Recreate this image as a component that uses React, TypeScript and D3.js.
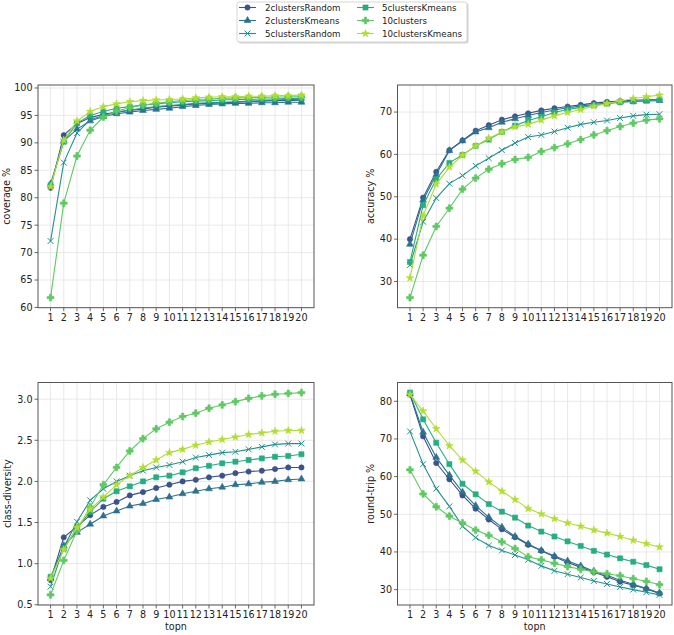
import React from "react";
import * as d3 from "d3";

const topn = d3.range(1, 21);
const seriesNames = ["2clustersRandom", "2clustersKmeans", "5clustersRandom", "5clustersKmeans", "10clusters", "10clustersKmeans"];
const markers = ["circle", "triangle", "x", "square", "plus", "star"];
const colorT = [0.25, 0.37, 0.5, 0.62, 0.75, 0.88];

const coverage = [
  [81.8, 91.4, 93.5, 94.6, 95.2, 95.6, 95.9, 96.2, 96.5, 96.7, 96.9, 97.1, 97.2, 97.3, 97.4, 97.5, 97.6, 97.7, 97.7, 97.8],
  [82.5, 90.3, 92.5, 94.0, 94.8, 95.3, 95.6, 95.9, 96.1, 96.3, 96.6, 96.8, 97.0, 97.1, 97.2, 97.2, 97.3, 97.3, 97.4, 97.4],
  [72.1, 86.4, 91.8, 94.2, 95.0, 95.6, 96.0, 96.3, 96.6, 96.8, 97.0, 97.2, 97.3, 97.4, 97.5, 97.6, 97.7, 97.8, 97.9, 97.9],
  [82.3, 90.2, 93.6, 95.0, 95.7, 96.3, 96.6, 96.9, 97.1, 97.3, 97.5, 97.6, 97.7, 97.8, 97.9, 97.9, 98.0, 98.0, 98.1, 98.1],
  [61.8, 79.0, 87.6, 92.3, 94.7, 95.8, 96.4, 96.9, 97.2, 97.5, 97.7, 97.9, 98.0, 98.1, 98.2, 98.2, 98.3, 98.3, 98.4, 98.4],
  [82.0, 90.5, 94.0, 95.7, 96.6, 97.1, 97.5, 97.7, 97.8, 97.9, 98.0, 98.2, 98.3, 98.4, 98.4, 98.5, 98.5, 98.6, 98.6, 98.7],
];

const accuracy = [
  [40.0, 49.8, 55.9, 61.0, 63.3, 65.6, 66.9, 68.2, 69.0, 69.7, 70.4, 70.9, 71.3, 71.7, 72.1, 72.4, 72.6, 72.8, 72.9, 73.0],
  [38.8, 49.2, 55.2, 60.9, 63.2, 65.3, 66.3, 67.6, 68.4, 69.2, 69.9, 70.5, 71.0, 71.4, 71.8, 72.1, 72.4, 72.5, 72.6, 72.7],
  [33.9, 44.1, 49.7, 53.1, 55.0, 57.3, 59.1, 61.0, 62.7, 64.1, 64.6, 65.4, 66.3, 67.1, 67.6, 68.0, 68.6, 69.1, 69.4, 69.5],
  [34.6, 48.0, 54.2, 58.0, 59.9, 62.0, 63.5, 65.3, 66.8, 68.0, 68.9, 69.9, 70.6, 71.1, 71.6, 72.0, 72.3, 72.5, 72.7, 73.0],
  [26.2, 36.2, 43.0, 47.3, 51.8, 54.4, 56.5, 57.8, 58.8, 59.3, 60.7, 61.6, 62.5, 63.5, 64.6, 65.6, 66.6, 67.4, 68.1, 68.4],
  [30.8, 45.5, 53.0, 57.0, 59.8, 62.0, 63.8, 65.3, 66.5, 67.1, 68.1, 69.1, 69.9, 70.6, 71.4, 72.0, 72.6, 73.2, 73.6, 74.0],
];

const diversity = [
  [0.80, 1.32, 1.45, 1.59, 1.69, 1.75, 1.83, 1.87, 1.92, 1.96, 2.00, 2.02, 2.05, 2.07, 2.10, 2.12, 2.13, 2.15, 2.17, 2.17],
  [0.82, 1.22, 1.38, 1.48, 1.58, 1.64, 1.70, 1.73, 1.78, 1.81, 1.85, 1.88, 1.91, 1.93, 1.96, 1.97, 1.99, 2.00, 2.02, 2.03],
  [0.72, 1.20, 1.51, 1.77, 1.91, 2.00, 2.07, 2.13, 2.17, 2.20, 2.24, 2.29, 2.32, 2.35, 2.36, 2.39, 2.42, 2.45, 2.46, 2.46],
  [0.84, 1.18, 1.44, 1.63, 1.79, 1.88, 1.94, 2.00, 2.05, 2.07, 2.11, 2.16, 2.19, 2.22, 2.24, 2.26, 2.28, 2.30, 2.31, 2.33],
  [0.62, 1.04, 1.40, 1.69, 1.96, 2.17, 2.37, 2.52, 2.64, 2.72, 2.79, 2.83, 2.89, 2.93, 2.97, 3.01, 3.04, 3.06, 3.07, 3.08],
  [0.82, 1.17, 1.44, 1.66, 1.81, 1.96, 2.07, 2.17, 2.26, 2.35, 2.39, 2.44, 2.48, 2.51, 2.54, 2.57, 2.59, 2.61, 2.62, 2.62],
];

const roundTrip = [
  [81.8, 70.7, 63.6, 59.3, 55.0, 51.5, 48.6, 46.0, 43.9, 41.9, 40.3, 38.7, 37.2, 35.9, 34.6, 33.4, 32.1, 31.2, 30.2, 29.0],
  [82.0, 71.8, 65.1, 60.4, 55.9, 52.3, 49.2, 46.6, 44.1, 42.1, 40.4, 38.9, 37.6, 36.3, 34.9, 33.8, 32.5, 31.4, 30.3, 29.1],
  [72.0, 63.3, 56.8, 52.1, 46.8, 43.8, 41.7, 40.4, 39.2, 37.9, 36.3, 35.0, 34.1, 33.2, 32.3, 31.5, 30.7, 30.0, 29.3, 28.6],
  [82.3, 75.2, 69.0, 63.3, 58.1, 55.3, 52.7, 50.7, 49.1, 47.0, 45.4, 44.1, 42.8, 41.6, 40.3, 39.3, 38.3, 37.4, 36.5, 35.4],
  [61.8, 55.4, 52.0, 49.5, 47.7, 45.8, 44.4, 42.7, 40.9, 38.7, 37.9, 37.0, 36.1, 35.4, 34.7, 34.2, 33.7, 32.9, 32.2, 31.3],
  [81.8, 77.4, 72.7, 68.2, 64.4, 61.4, 58.6, 56.1, 53.9, 51.5, 50.1, 48.8, 47.7, 46.8, 45.8, 45.0, 44.1, 43.1, 42.2, 41.3],
];

const coverageTicks = [60, 65, 70, 75, 80, 85, 90, 95, 100];
const accuracyTicks = [30, 40, 50, 60, 70];
const diversityTicks = [0.5, 1.0, 1.5, 2.0, 2.5, 3.0];
const roundTripTicks = [30, 40, 50, 60, 70, 80];

const FONT = "DejaVu Sans, sans-serif";
const TICK_FS = 9.6;
const LEG_FS = 8.7;
const colors = colorT.map((t) => d3.interpolateViridis(t));

function Marker({ type, x, y, color }: { type: string; x: number; y: number; color: string }) {
  let sym: any = d3.symbolCircle;
  let size = 22;
  let stroke = false;
  if (type === "triangle") { sym = d3.symbolTriangle; size = 20; }
  else if (type === "square") { sym = d3.symbolSquare; size = 26; }
  else if (type === "plus") { sym = d3.symbolCross; size = 26; }
  else if (type === "star") { sym = d3.symbolStar; size = 18; }
  else if (type === "x") { sym = d3.symbolX; size = 24; stroke = true; }
  const p = d3.symbol().type(sym).size(size)() as string;
  return stroke ? (
    <path d={p} transform={`translate(${x},${y})`} fill="none" stroke={color} strokeWidth={1} />
  ) : (
    <path d={p} transform={`translate(${x},${y})`} fill={color} stroke={color} strokeWidth={0.6} />
  );
}

type PanelProps = {
  data: number[][];
  ticks: number[];
  fmt: (v: number) => string;
  label: string;
  x0: number; x1: number; y0: number; y1: number;
  labelX: number;
  showX: boolean;
};

function Panel({ data, ticks, fmt, label, x0, x1, y0, y1, labelX, showX }: PanelProps) {
  const all = data.flat();
  const mn = d3.min(all)!;
  const mx = d3.max(all)!;
  const pad = (mx - mn) * 0.05;
  const x = d3.scaleLinear().domain([0.05, 20.95]).range([x0, x1]);
  const y = d3.scaleLinear().domain([mn - pad, mx + pad]).range([y1, y0]);
  const line = d3.line<number>().x((_, i) => x(topn[i])).y((v) => y(v));
  return (
    <g>
      {topn.map((t) => (
        <line key={"gx" + t} x1={x(t)} x2={x(t)} y1={y0} y2={y1} stroke="#e3e3e3" strokeWidth={0.8} />
      ))}
      {ticks.map((t) => (
        <line key={"gy" + t} x1={x0} x2={x1} y1={y(t)} y2={y(t)} stroke="#e3e3e3" strokeWidth={0.8} />
      ))}
      {data.map((s, si) => (
        <g key={si}>
          <path d={line(s) as string} fill="none" stroke={colors[si]} strokeWidth={1.1} />
          {s.map((v, i) => (
            <Marker key={i} type={markers[si]} x={x(topn[i])} y={y(v)} color={colors[si]} />
          ))}
        </g>
      ))}
      <rect x={x0} y={y0} width={x1 - x0} height={y1 - y0} fill="none" stroke="#555" strokeWidth={1} />
      {topn.map((t) => (
        <g key={"tx" + t}>
          <line x1={x(t)} x2={x(t)} y1={y1} y2={y1 + 3.5} stroke="#444" strokeWidth={0.8} />
          <text x={x(t)} y={y1 + 13} textAnchor="middle" fontSize={TICK_FS} fontFamily={FONT} fill="#222">{t}</text>
        </g>
      ))}
      {ticks.map((t) => (
        <g key={"ty" + t}>
          <line x1={x0 - 3.5} x2={x0} y1={y(t)} y2={y(t)} stroke="#444" strokeWidth={0.8} />
          <text x={x0 - 5.5} y={y(t)} dy="0.35em" textAnchor="end" fontSize={TICK_FS} fontFamily={FONT} fill="#222">{fmt(t)}</text>
        </g>
      ))}
      <text transform={`translate(${labelX},${(y0 + y1) / 2}) rotate(-90)`} textAnchor="middle" dy="0.35em" fontSize={TICK_FS} fontFamily={FONT} fill="#222">{label}</text>
      {showX && (
        <text x={(x0 + x1) / 2} y={y1 + 25} textAnchor="middle" fontSize={TICK_FS} fontFamily={FONT} fill="#222">topn</text>
      )}
    </g>
  );
}

function Legend() {
  const bx = 237, by = 2, bw = 230, bh = 40;
  const cols = [{ lx: 239, tx: 265 }, { lx: 357, tx: 382 }];
  const rows = [7.5, 20.5, 33.5];
  return (
    <g>
      <rect x={bx + 1.5} y={by + 1.5} width={bw} height={bh} rx={2} fill="#bbb" opacity={0.6} />
      <rect x={bx} y={by} width={bw} height={bh} rx={2} fill="#fff" stroke="#ccc" strokeWidth={0.8} />
      {seriesNames.map((n, i) => {
        const c = cols[Math.floor(i / 3)];
        const ry = rows[i % 3];
        return (
          <g key={n}>
            <line x1={c.lx} x2={c.lx + 17} y1={ry} y2={ry} stroke={colors[i]} strokeWidth={1.1} />
            <Marker type={markers[i]} x={c.lx + 8.5} y={ry} color={colors[i]} />
            <text x={c.tx} y={ry} dy="0.35em" fontSize={LEG_FS} fontFamily={FONT} fill="#222">{n}</text>
          </g>
        );
      })}
    </g>
  );
}

export default function App() {
  const f0 = (v: number) => d3.format("d")(v);
  const f1 = (v: number) => d3.format(".1f")(v);
  return (
    <svg width={674} height={635} style={{ position: "absolute", left: 0, top: 0, background: "#fff" }}>
      <rect width={674} height={635} fill="#fff" />
      <Panel data={coverage} ticks={coverageTicks} fmt={f0} label="coverage %" x0={38} x1={314} y0={85} y1={307.7} labelX={7} showX={false} />
      <Panel data={accuracy} ticks={accuracyTicks} fmt={f0} label="accuracy %" x0={397.5} x1={672} y0={85} y1={307.7} labelX={371} showX={false} />
      <Panel data={diversity} ticks={diversityTicks} fmt={f1} label="class-diversity" x0={38} x1={314} y0={382.5} y1={605} labelX={8} showX={true} />
      <Panel data={roundTrip} ticks={roundTripTicks} fmt={f0} label="round-trip %" x0={397.5} x1={672} y0={382.5} y1={605} labelX={371} showX={true} />
      <Legend />
    </svg>
  );
}
